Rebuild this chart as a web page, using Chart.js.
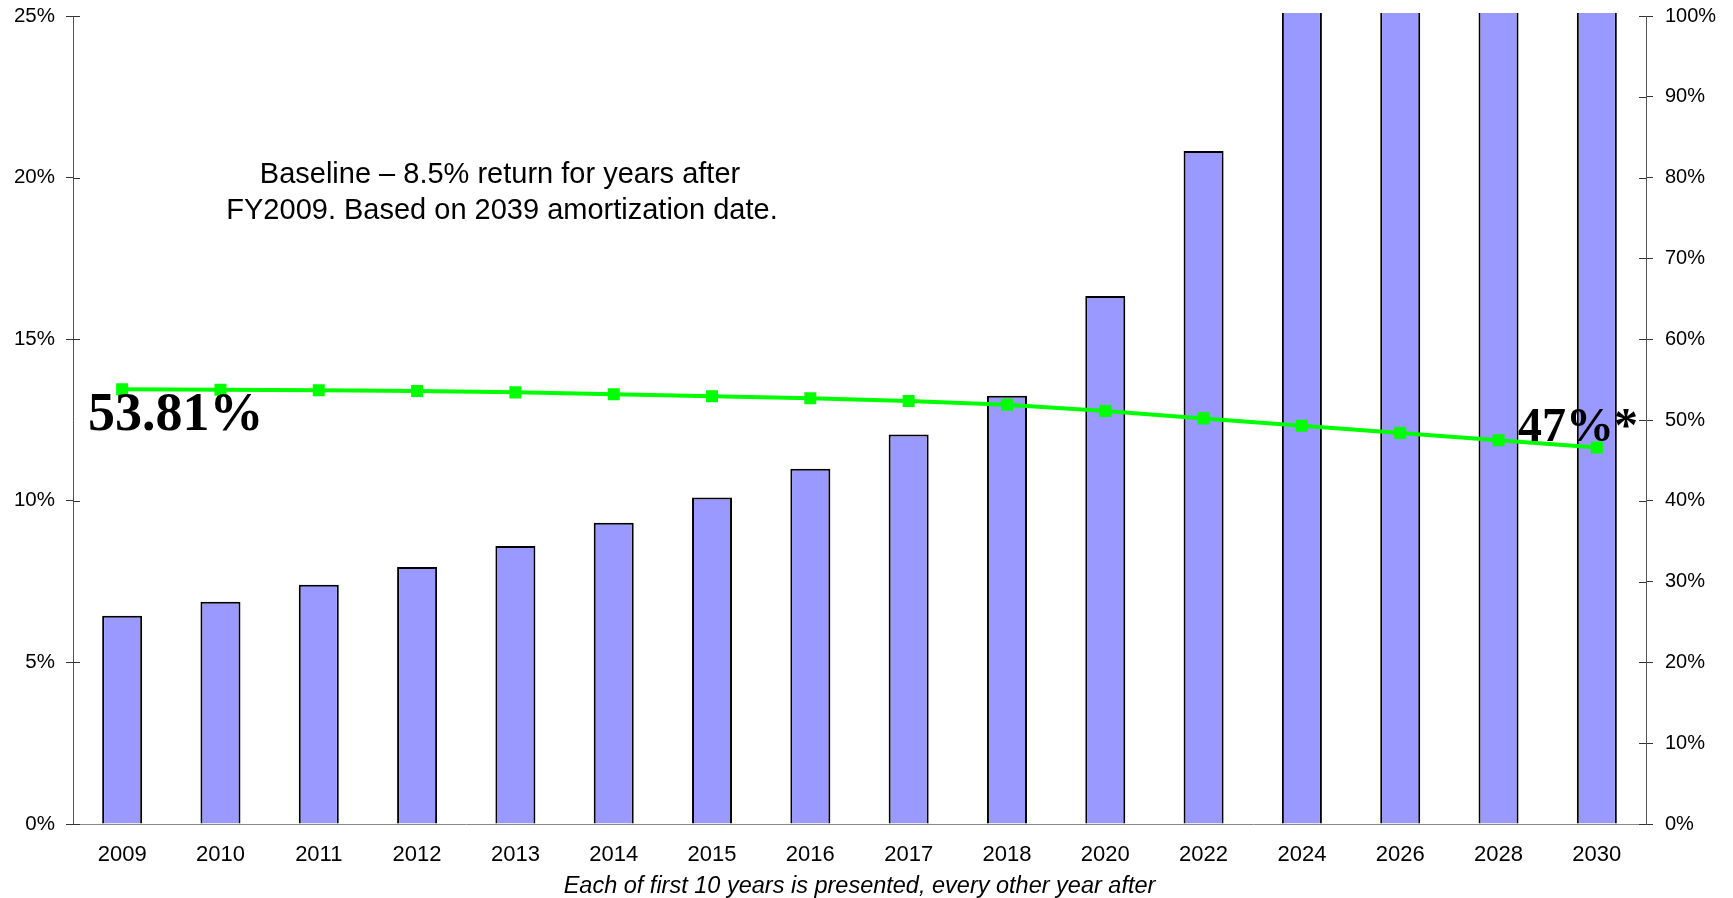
<!DOCTYPE html>
<html><head><meta charset="utf-8">
<script src="https://cdn.jsdelivr.net/npm/chart.js@4.4.1/dist/chart.umd.min.js"></script>
<style>html,body{margin:0;padding:0;background:#fff;overflow:hidden}</style>
</head><body>
<canvas id="c" width="1733" height="898" style="width:1733px;height:898px;display:block"></canvas>
<script>
// ---- data ----
const years = ['2009','2010','2011','2012','2013','2014','2015','2016','2017','2018','2020','2022','2024','2026','2028','2030'];
// contribution rate, % of payroll (left axis, clipped above 25%)
const contributionRate = [6.44, 6.88, 7.40, 7.95, 8.60, 9.32, 10.10, 10.99, 12.05, 13.25, 16.34, 20.82, 26.5, 32.0, 38.0, 44.0];
// funded ratio, % (right axis)
const fundedRatio = [53.81, 53.75, 53.68, 53.58, 53.42, 53.20, 52.95, 52.70, 52.35, 51.90, 51.10, 50.20, 49.30, 48.40, 47.50, 46.60];
const leftAxisMax = 25, leftAxisStep = 5;
const rightAxisMax = 100, rightAxisStep = 10;
const noteLines = ['Baseline \u2013 8.5% return for years after', 'FY2009. Based on 2039 amortization date.'];
const startLabel = '53.81%';
const endLabel = '47%*';
const xAxisTitle = 'Each of first 10 years is presented, every other year after';

const SANS = '"Liberation Sans", Arial, Helvetica, sans-serif';
const SERIF = '"Liberation Serif", "Times New Roman", serif';

const notesPlugin = {
  id: 'notes',
  afterDraw(chart) {
    const ctx = chart.ctx;
    ctx.save();
    // inner halves of the y-axis ticks
    ctx.strokeStyle = '#333';
    ctx.lineWidth = 1;
    [['y', 1], ['y1', -1]].forEach(([id, dir]) => {
      const s = chart.scales[id];
      const x = id === 'y' ? s.right : s.left;
      s.ticks.forEach(t => {
        const y = Math.round(s.getPixelForValue(t.value)) + 0.5;
        ctx.beginPath(); ctx.moveTo(x, y); ctx.lineTo(x + dir * 7, y); ctx.stroke();
      });
    });
    ctx.fillStyle = '#000';
    ctx.textBaseline = 'alphabetic';
    ctx.textAlign = 'center';
    ctx.font = '29px ' + SANS;
    ctx.fillText(noteLines[0], 500, 183);
    ctx.fillText(noteLines[1], 502, 219);
    ctx.textAlign = 'left';
    ctx.font = 'bold 54px ' + SERIF;
    ctx.fillText(startLabel, 88, 430);
    ctx.font = 'bold 48px ' + SERIF;
    ctx.fillText(endLabel, 1518, 441);
    ctx.restore();
  }
};

function noVPad(s) { s.paddingTop = 0; s.paddingBottom = 0; }

new Chart(document.getElementById('c'), {
  data: {
    labels: years,
    datasets: [
      {
        type: 'line',
        label: 'Funded ratio',
        data: fundedRatio,
        yAxisID: 'y1',
        borderColor: '#00FF00',
        backgroundColor: '#00FF00',
        borderWidth: 4,
        pointStyle: 'rect',
        pointRadius: 8.5,
        pointHoverRadius: 8.5,
        pointBorderWidth: 0,
        tension: 0,
        order: 0
      },
      {
        type: 'bar',
        label: 'Contribution rate',
        data: contributionRate,
        yAxisID: 'y',
        backgroundColor: '#9999FF',
        borderColor: '#000',
        borderWidth: 2,
        categoryPercentage: 1,
        barPercentage: 0.407,
        clip: {left: 0, right: 0, top: 3, bottom: 0},
        order: 1
      }
    ]
  },
  options: {
    responsive: false,
    animation: false,
    devicePixelRatio: 1,
    layout: {padding: {top: 16, left: 0, right: 0, bottom: 0}},
    plugins: {legend: {display: false}, tooltip: {enabled: false}},
    scales: {
      x: {
        grid: {display: false, drawTicks: false},
        border: {display: true, color: '#888', width: 1},
        ticks: {color: '#000', font: {family: SANS, size: 22}, padding: 18, maxRotation: 0, autoSkip: false},
        title: {display: true, text: xAxisTitle, color: '#000', font: {family: SANS, size: 23.5, style: 'italic', lineHeight: 1}, padding: {top: 0, bottom: 0}},
        afterFit(s) { s.height = 74; }
      },
      y: {
        position: 'left',
        min: 0, max: leftAxisMax,
        grid: {drawOnChartArea: false, drawTicks: true, tickLength: 7, color: '#333'},
        border: {display: true, color: '#555', width: 1},
        ticks: {stepSize: leftAxisStep, color: '#000', font: {family: SANS, size: 20.5}, padding: 11, callback: v => v + '%'},
        afterFit(s) { s.width = 73; noVPad(s); }
      },
      y1: {
        position: 'right',
        min: 0, max: rightAxisMax,
        grid: {drawOnChartArea: false, drawTicks: true, tickLength: 7, color: '#333'},
        border: {display: true, color: '#555', width: 1},
        ticks: {stepSize: rightAxisStep, color: '#000', font: {family: SANS, size: 20}, padding: 12, callback: v => v + '%'},
        afterFit(s) { s.width = 87; noVPad(s); }
      }
    }
  },
  plugins: [notesPlugin]
});
</script>
</body></html>
